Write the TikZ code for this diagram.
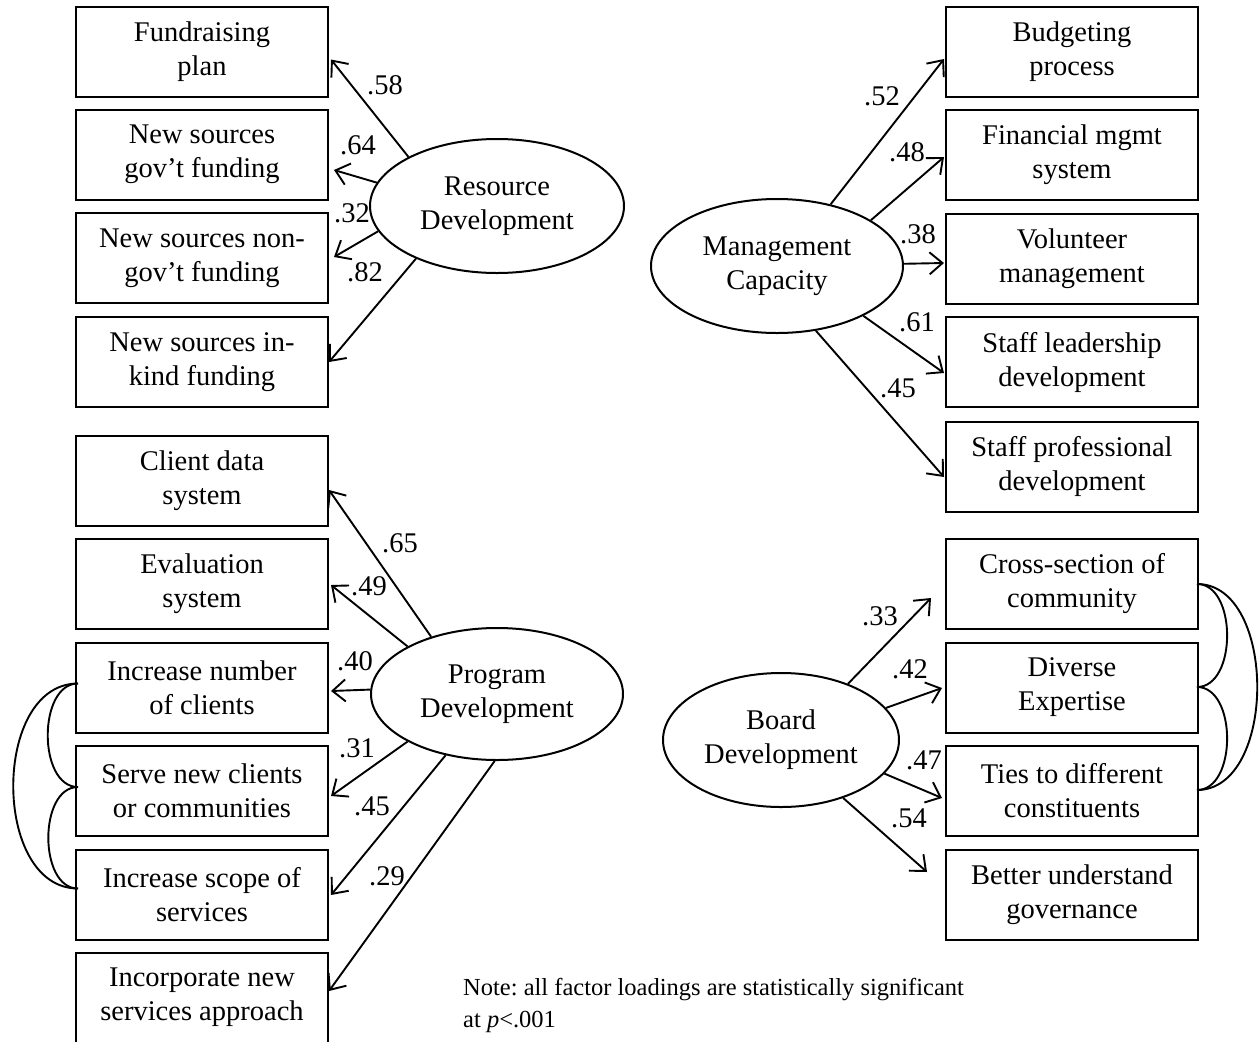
\documentclass[tikz,border=0pt]{standalone}
\usepackage{fontspec}
\setmainfont{Liberation Serif}
\usetikzlibrary{arrows.meta,calc,shapes.geometric}
\frenchspacing
\begin{document}
\begin{tikzpicture}[x=1pt,y=-1pt,
  box/.style={draw,line width=2pt,minimum width=252pt,minimum height=90pt,inner sep=0pt,align=center,font=\fontsize{28.5}{34}\selectfont},
  lat/.style={draw,ellipse,line width=2pt,inner sep=0pt,align=center,font=\fontsize{28.5}{34}\selectfont},
  ld/.style={line width=1.9pt,-{Straight Barb[length=13pt,width=22pt,line width=1.9pt]}},
  lab/.style={font=\fontsize{28.5}{34}\selectfont,inner sep=0pt},
  cov/.style={line width=1.9pt}]
\useasboundingbox (0,0) rectangle (1259,1042);
% left top boxes
\node[box] (a1) at (202,51.5) {Fundraising\\plan};
\node[box] (a2) at (202,154.5) {New sources\\gov’t funding};
\node[box] (a3) at (202,258) {New sources non-\\gov’t funding};
\node[box] (a4) at (202,362) {New sources in-\\kind funding};
% left bottom boxes
\node[box] (p1) at (202,480.5) {Client data\\system};
\node[box] (p2) at (202,584) {Evaluation\\system};
\node[box] (p3) at (202,687.5) {Increase number\\of clients};
\node[box] (p4) at (202,791) {Serve new clients\\or communities};
\node[box] (p5) at (202,894.5) {Increase scope of\\services};
\node[box] (p6) at (202,997.5) {Incorporate new\\services approach};
% right top boxes
\node[box] (m1) at (1072,52) {Budgeting\\process};
\node[box] (m2) at (1072,155) {Financial mgmt\\system};
\node[box] (m3) at (1072,258.5) {Volunteer\\management};
\node[box] (m4) at (1072,362) {Staff leadership\\development};
\node[box] (m5) at (1072,466.5) {Staff professional\\development};
% right bottom boxes
\node[box] (b1) at (1072,583.5) {Cross-section of\\community};
\node[box] (b2) at (1072,687.5) {Diverse\\Expertise};
\node[box] (b3) at (1072,791) {Ties to different\\constituents};
\node[box] (b4) at (1072,894.5) {Better understand\\governance};
% latent factors
\node[lat,minimum width=254pt,minimum height=134pt] (rd) at (497,206) {Resource\\Development};
\node[lat,minimum width=252pt,minimum height=134pt] (mc) at (777,266) {Management\\Capacity};
\node[lat,minimum width=252pt,minimum height=132pt] (pd) at (497,694) {Program\\Development};
\node[lat,minimum width=236pt,minimum height=134pt] (bd) at (781,740) {Board\\Development};
% Resource development loadings
\draw[ld] (rd.151.2) -- ($(a1.east)+(2,8)$);
\draw[ld] (rd.169.6) -- ($(a2.east)+(5,15.5)$);
\draw[ld] (rd.192.5) -- ($(a3.east)+(5,-1)$);
\draw[ld] (rd.213) -- ($(a4.east)+(0,0)$);
\node[lab] (ra) at (385,85) {.58};
\node[lab] (rb) at (358,145) {.64};
\node[lab] (rc) at (352,213) {.32};
\node[lab] (re) at (365,272) {.82};
% Management capacity loadings
\draw[ld] (mc.49) -- ($(m1.west)+(-1,7)$);
\draw[ld] (mc.26.8) -- ($(m2.west)+(-1,2)$);
\draw[ld] (mc.1.4) -- ($(m3.west)+(-1,4.5)$);
\draw[ld] (mc.-30.5) -- ($(m4.west)+(-1,11)$);
\draw[ld] (mc.-59.3) -- ($(m5.west)+(-1,10.5)$);
\node[lab] (ma) at (882,96) {.52};
\node[lab] (mb) at (907,152) {.48};
\node[lab] (mcl) at (918,234) {.38};
\node[lab] (md) at (917,322) {.61};
\node[lab] (me) at (898,388) {.45};
% Program development loadings
\draw[ld] (pd.139.1) -- ($(p1.east)+(0,9.5)$);
\draw[ld] (pd.152.4) -- ($(p2.east)+(2,1)$);
\draw[ld] (pd.178.6) -- ($(p3.east)+(2,3.5)$);
\draw[ld] (pd.208.6) -- ($(p4.east)+(2,5)$);
\draw[ld] (pd.230) -- ($(p5.east)+(2,0.5)$);
\draw[ld] (pd.268.3) -- ($(p6.east)+(0,-6.5)$);
\node[lab] (pa) at (400,543) {.65};
\node[lab] (pb) at (369,586) {.49};
\node[lab] (pc) at (355,661) {.40};
\node[lab] (pe) at (357,748) {.31};
\node[lab] (pf) at (372,806) {.45};
\node[lab] (pg) at (387,876) {.29};
% Board development loadings
\draw[ld] (bd.40.8) -- ($(b1.west)+(-14,14.5)$);
\draw[ld] (bd.17.1) -- ($(b2.west)+(-3,0.5)$);
\draw[ld] (bd.-18.6) -- ($(b3.west)+(-3,7)$);
\draw[ld] (bd.-43.1) -- ($(b4.west)+(-18,-22.5)$);
\node[lab] (ba) at (880,616) {.33};
\node[lab] (bb) at (910,669) {.42};
\node[lab] (bc) at (924,760) {.47};
\node[lab] (be) at (909,818) {.54};
% correlated errors, left
\draw[cov] ($(p3.west)+(3,-4)$) to[out=180,in=180] ($(p4.west)+(3,-4)$);
\draw[cov] ($(p4.west)+(3,-4)$) to[out=180,in=180] ($(p5.west)+(3,-6)$);
\draw[cov] ($(p3.west)+(3,-4)$) to[out=180,in=180,looseness=1.08] ($(p5.west)+(3,-6)$);
% correlated errors, right
\draw[cov] ($(b1.east)+(-2,0.5)$) to[out=0,in=0] ($(b2.east)+(-2,-0.5)$);
\draw[cov] ($(b2.east)+(-2,-0.5)$) to[out=0,in=0] ($(b3.east)+(-2,-1)$);
\draw[cov] ($(b1.east)+(-2,0.5)$) to[out=0,in=0,looseness=1.0] ($(b3.east)+(-2,-1)$);
% note
\node[anchor=north west,align=left,inner sep=0pt,font=\fontsize{24.5}{32}\selectfont] (note) at (463,978) {Note: all factor loadings are statistically significant\\at \textit{p}<.001};
\end{tikzpicture}
\end{document}
